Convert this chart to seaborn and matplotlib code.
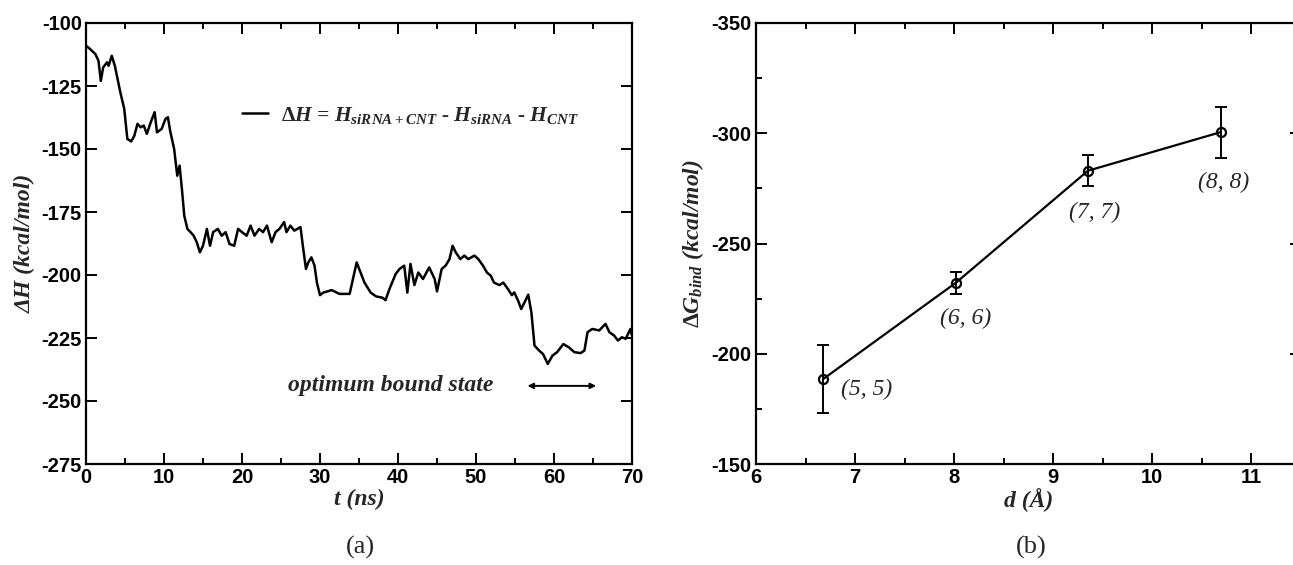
import matplotlib
matplotlib.use("Agg")
import matplotlib.pyplot as plt
import matplotlib.ticker as mticker
import seaborn as sns
import pandas as pd

# ---------------- data ----------------
t_ns = [0.0, 0.4, 1.2, 1.6, 1.9, 2.2, 2.7, 2.9, 3.3, 3.7, 4.4, 4.9, 5.3, 5.8, 6.2,
        6.6, 7.0, 7.4, 7.8, 8.3, 8.8, 9.1, 9.7, 10.2, 10.5, 10.8, 11.3, 11.7, 12.0,
        12.3, 12.6, 13.0, 13.4, 13.8, 14.2, 14.6, 15.0, 15.5, 15.9, 16.3, 16.9,
        17.4, 17.9, 18.4, 19.0, 19.5, 20.0, 20.6, 21.1, 21.6, 22.2, 22.7, 23.2,
        23.8, 24.3, 24.8, 25.4, 25.7, 26.2, 26.7, 27.1, 27.5, 27.8, 28.2, 28.5,
        28.9, 29.3, 29.6, 30.0, 30.4, 31.5, 32.5, 33.8, 34.7, 35.2, 35.7, 36.5,
        37.2, 38.0, 38.4, 38.9, 39.7, 40.2, 40.8, 41.2, 41.6, 42.1, 42.6, 43.2,
        44.0, 44.7, 45.0, 45.6, 46.1, 46.6, 47.0, 47.4, 48.0, 48.5, 49.0, 49.8,
        50.3, 50.9, 51.4, 51.9, 52.3, 53.0, 53.5, 54.1, 54.6, 54.9, 55.4, 55.8,
        56.2, 56.7, 57.1, 57.5, 58.1, 58.6, 59.2, 59.8, 60.4, 61.2, 61.9, 62.6,
        63.4, 63.9, 64.3, 64.9, 65.8, 66.6, 67.1, 67.7, 68.2, 68.7, 69.2, 69.8,
        70.0]
dH = [-109.0, -110.0, -112.3, -115.0, -123.0, -117.6, -115.6, -117.0, -113.0,
      -117.0, -127.5, -134.0, -146.0, -147.0, -144.7, -140.0, -141.4, -140.7,
      -144.0, -139.4, -135.4, -143.4, -142.0, -138.0, -137.4, -143.0, -150.0,
      -160.6, -156.6, -166.0, -176.5, -181.7, -183.0, -184.4, -187.0, -191.0,
      -188.4, -181.7, -188.4, -183.0, -181.7, -184.4, -183.0, -187.7, -188.4,
      -181.7, -183.0, -184.4, -180.4, -184.4, -181.7, -183.0, -180.4, -187.0,
      -183.0, -181.7, -179.0, -183.0, -180.4, -182.4, -181.7, -181.0, -188.4,
      -197.6, -195.0, -193.0, -196.3, -203.0, -208.0, -207.0, -206.0, -207.5,
      -207.5, -195.0, -199.0, -203.0, -207.0, -208.5, -209.0, -210.0, -205.6,
      -199.6, -197.6, -196.3, -207.0, -195.6, -204.0, -199.0, -201.6, -197.0,
      -201.6, -206.5, -197.6, -196.3, -193.7, -188.4, -191.0, -193.7, -192.3,
      -193.7, -192.3, -193.7, -196.3, -199.0, -200.3, -203.0, -204.0, -203.0,
      -205.6, -208.0, -206.9, -210.2, -213.5, -211.0, -207.8, -214.8, -228.0,
      -230.0, -231.4, -235.3, -232.0, -230.6, -227.4, -228.7, -230.6, -231.0,
      -230.0, -222.7, -221.4, -222.0, -219.4, -222.7, -224.0, -226.0, -224.7,
      -225.3, -221.4, -224.0]

d_angstrom = [6.68, 8.02, 9.35, 10.69]
dG_bind = [-188.6, -232.3, -283.0, -300.5]
dG_err = [15.5, 5.0, 7.0, 11.5]
cnt_labels = ["(5, 5)", "(6, 6)", "(7, 7)", "(8, 8)"]
label_x = [6.86, 7.86, 9.16, 10.46]
label_y = [-184.0, -216.0, -264.0, -277.5]

# ---------------- style ----------------
sns.set_theme(style="ticks")
plt.rcParams["font.family"] = ["Liberation Sans", "DejaVu Sans"]
plt.rcParams["axes.unicode_minus"] = False
plt.rcParams["mathtext.fontset"] = "custom"
plt.rcParams["mathtext.rm"] = "Liberation Serif:bold"
plt.rcParams["mathtext.it"] = "Liberation Serif:italic:bold"
plt.rcParams["mathtext.bf"] = "Liberation Serif:bold"

W, H = 1293, 565
fig = plt.figure(figsize=(W / 100, H / 100), dpi=100)
fig.patch.set_facecolor("white")

top_px, bot_px = 23, 464
axA = fig.add_axes([86 / W, 1 - bot_px / H, (632 - 86) / W, (bot_px - top_px) / H])
axB = fig.add_axes([756 / W, 1 - bot_px / H, (1301 - 756) / W, (bot_px - top_px) / H])

lab_font = dict(family="Liberation Serif", weight="bold", style="italic", size=17)


def style_axes(ax):
    ax.set_facecolor("white")
    for s in ax.spines.values():
        s.set_visible(True)
        s.set_linewidth(1.6)
        s.set_color("black")
    ax.tick_params(which="both", direction="in", top=True, right=True,
                   color="black", width=1.4)
    ax.tick_params(which="major", length=8, pad=3)
    ax.tick_params(which="minor", length=4)
    for lbl in ax.get_xticklabels() + ax.get_yticklabels():
        lbl.set_fontfamily("Liberation Sans")
        lbl.set_fontweight("bold")
        lbl.set_fontsize(14.5)
        lbl.set_color("black")


# ---------------- panel (a) ----------------
dfA = pd.DataFrame({"t": t_ns, "dH": dH})
sns.lineplot(data=dfA, x="t", y="dH", ax=axA, color="black", linewidth=1.8,
             sort=False, estimator=None,
             label=r"$\Delta H$ = $H_{siRNA+CNT}$ - $H_{siRNA}$ - $H_{CNT}$")
axA.set_xlim(0, 70)
axA.set_ylim(-275, -100)
axA.xaxis.set_major_locator(mticker.MultipleLocator(10))
axA.xaxis.set_minor_locator(mticker.MultipleLocator(5))
axA.yaxis.set_major_locator(mticker.MultipleLocator(25))
axA.yaxis.set_minor_locator(mticker.NullLocator())
axA.set_xlabel("t (ns)", fontdict=lab_font, labelpad=1)
axA.set_ylabel("ΔH (kcal/mol)", fontdict=lab_font, labelpad=4)
style_axes(axA)
leg = axA.legend(loc="center left", bbox_to_anchor=(0.286, 0.791), frameon=False,
                 handlelength=1.2, handletextpad=0.6, borderpad=0, borderaxespad=0,
                 prop=dict(family="Liberation Serif", weight="bold", style="italic", size=15.5))
axA.text(39, -244, "optimum bound state", ha="center", va="center",
         fontfamily="Liberation Serif", fontweight="bold", fontstyle="italic", fontsize=17)
axA.annotate("", xy=(65.4, -244), xytext=(56.6, -244),
             arrowprops=dict(arrowstyle="<|-|>", color="black", lw=1.4,
                             mutation_scale=8, shrinkA=0, shrinkB=0))

# ---------------- panel (b) ----------------
dfB = pd.DataFrame({"d": d_angstrom, "dG": dG_bind, "err": dG_err})
axB.errorbar(dfB["d"], dfB["dG"], yerr=dfB["err"], fmt="none", ecolor="black",
             elinewidth=1.4, capsize=4.5, capthick=1.4, zorder=2)
sns.lineplot(data=dfB, x="d", y="dG", ax=axB, color="black", linewidth=1.6,
             marker="o", markersize=6.5, markerfacecolor="none",
             markeredgecolor="black", markeredgewidth=1.6, sort=False,
             estimator=None, zorder=3)
for lx, ly, txt in zip(label_x, label_y, cnt_labels):
    axB.text(lx, ly, txt, ha="left", va="center", fontfamily="Liberation Serif",
             fontstyle="italic", fontsize=17)
axB.set_xlim(6, 11.5)
axB.set_ylim(-150, -350)
axB.xaxis.set_major_locator(mticker.MultipleLocator(1))
axB.xaxis.set_minor_locator(mticker.MultipleLocator(0.5))
axB.yaxis.set_major_locator(mticker.MultipleLocator(50))
axB.yaxis.set_minor_locator(mticker.MultipleLocator(25))
axB.set_xlabel("d (Å)", fontdict=lab_font, labelpad=1)
axB.set_ylabel(r"$\Delta G_{bind}$ (kcal/mol)", fontdict=lab_font, labelpad=4)
style_axes(axB)

fig.text(360 / W, 1 - 547 / H, "(a)", ha="center", va="center",
         fontfamily="Liberation Serif", fontsize=19)
fig.text(1031 / W, 1 - 547 / H, "(b)", ha="center", va="center",
         fontfamily="Liberation Serif", fontsize=19)

fig.savefig("out.png", dpi=100, facecolor="white")
